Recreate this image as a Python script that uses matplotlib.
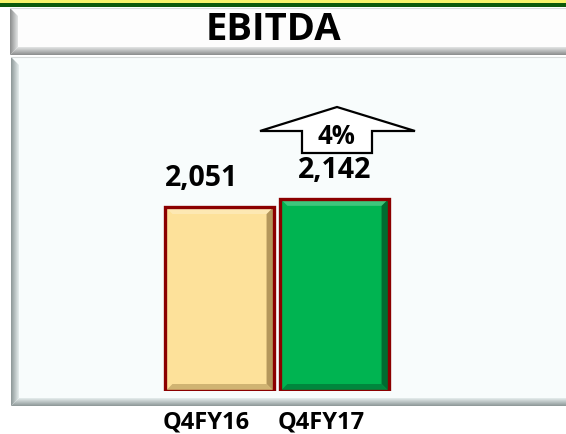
# %%
import matplotlib.pyplot as plt
import numpy as np
from matplotlib.colors import to_rgb
from matplotlib.patches import Polygon, Rectangle

plt.rcParams["font.family"] = ["Open Sans", "DejaVu Sans"]

# %% data
title = "EBITDA"
periods = ["Q4FY16", "Q4FY17"]
ebitda = [2051, 2142]
bar_colors = ["#FDE19A", "#00B451"]
shade_right = ["#A88A50", "#00602B"]
shade_bottom = ["#C9AC6C", "#00803A"]
growth = round((ebitda[1] / ebitda[0] - 1) * 100)

W, H = 566, 435
fig = plt.figure(figsize=(W / 100, H / 100), dpi=100)
fig.patch.set_facecolor("white")

# %% background frames, drawn in pixel coordinates
bg = fig.add_axes([0, 0, 1, 1], zorder=0)
bg.set_xlim(0, W)
bg.set_ylim(H, 0)
bg.axis("off")


def gradient(ax, poly, c0, c1, vertical):
    """fill a polygon with a linear gradient between two colours"""
    xs, ys = zip(*poly)
    t = np.linspace(0, 1, 64)
    a, b = np.array(to_rgb(c0)), np.array(to_rgb(c1))
    img = a[None, :] * (1 - t[:, None]) + b[None, :] * t[:, None]
    img = img[:, None, :] if vertical else img[None, :, :]
    im = ax.imshow(img, extent=[min(xs), max(xs), max(ys), min(ys)],
                   aspect="auto", interpolation="bilinear", zorder=1)
    patch = Polygon(poly, closed=True, facecolor="none", edgecolor="none")
    ax.add_patch(patch)
    im.set_clip_path(patch)


def frame(ax, x0, y0, x1, y1, d, face, outer, inner):
    ax.add_patch(Rectangle((x0, y0), x1 - x0, y1 - y0, facecolor=face,
                           edgecolor="none", zorder=0))
    # left bevel
    gradient(ax, [(x0, y0), (x0 + d, y0 + d), (x0 + d, y1 - d), (x0, y1)],
             outer, inner, vertical=False)
    # bottom bevel
    gradient(ax, [(x0, y1), (x0 + d, y1 - d), (x1, y1 - d), (x1, y1)],
             inner, outer, vertical=True)
    ax.plot([x0, x1], [y0, y0], color="#D8DCDC", lw=0.8, zorder=2)


# top stripes
bg.add_patch(Rectangle((0, 0), W, 4, facecolor="#F6F36A", edgecolor="none"))
bg.add_patch(Rectangle((0, 4), W, 3.5, facecolor="#0B5A0B", edgecolor="none"))

frame(bg, 10, 9, W + 2, 56, 8, "#FDFDFD", "#8A8C8C", "#E4E6E6")
frame(bg, 11, 58, W + 2, 407, 8, "#F8FCFC", "#8C9696", "#E6EEEE")

bg.text(273, 30, title, ha="center", va="center", fontsize=27.5,
        fontweight="bold", color="black", zorder=3)

# up arrow with growth figure
arrow = [(260, 132), (337, 108), (415, 132), (372, 132),
         (372, 154), (302, 154), (302, 132)]
bg.add_patch(Polygon(arrow, closed=True, facecolor="white",
                     edgecolor="black", lw=1.6, zorder=3))
bg.text(336, 137, f"{growth}%", ha="center", va="center", fontsize=18.5,
        fontweight="bold", zorder=4)

# %% bars
px_per_unit = 184 / 2051
ax_left, ax_right, ax_top, ax_bottom = 12, W, 58, 392
ax = fig.add_axes([ax_left / W, 1 - ax_bottom / H,
                   (ax_right - ax_left) / W, (ax_bottom - ax_top) / H],
                  zorder=1)
ax.patch.set_alpha(0)
step = 115
x = np.arange(len(periods))
ax.set_xlim((ax_left - 219.5) / step, (ax_right - 219.5) / step)
ax.set_ylim(0, (ax_bottom - ax_top) / px_per_unit)
ax.axis("off")

bars = ax.bar(x, ebitda, width=0.94, color=bar_colors, linewidth=0, zorder=2)

dx = 7 / step
dy = 7 / px_per_unit
for b, cr, cb in zip(bars, shade_right, shade_bottom):
    x0, w, h = b.get_x(), b.get_width(), b.get_height()
    x1 = x0 + w
    ax.add_patch(Polygon([(x1, 0), (x1 - dx, dy), (x1 - dx, h - dy), (x1, h)],
                         facecolor=cr, edgecolor="none", alpha=0.85, zorder=2.1))
    ax.add_patch(Polygon([(x0, 0), (x0 + dx, dy), (x1 - dx, dy), (x1, 0)],
                         facecolor=cb, edgecolor="none", alpha=0.85, zorder=2.1))
    ax.add_patch(Polygon([(x0, h), (x0 + dx, h - dy), (x1 - dx, h - dy), (x1, h)],
                         facecolor="white", edgecolor="none", alpha=0.25, zorder=2.1))

ax.bar(x, ebitda, width=0.94, fill=False, edgecolor="#8B0000",
       linewidth=2.4, zorder=2.2)

for xi, v in zip(x, ebitda):
    ax.text(xi - 0.16 * (xi == 0), v + 15 / px_per_unit, f"{v:,}",
            ha="center", va="bottom", fontsize=20.5, fontweight="bold")

for xi, p in zip(x, periods):
    ax.text(xi - 0.12, -19 / px_per_unit, p, ha="center", va="top",
            fontsize=17, fontweight="bold")

fig.savefig("out.png", dpi=100)
